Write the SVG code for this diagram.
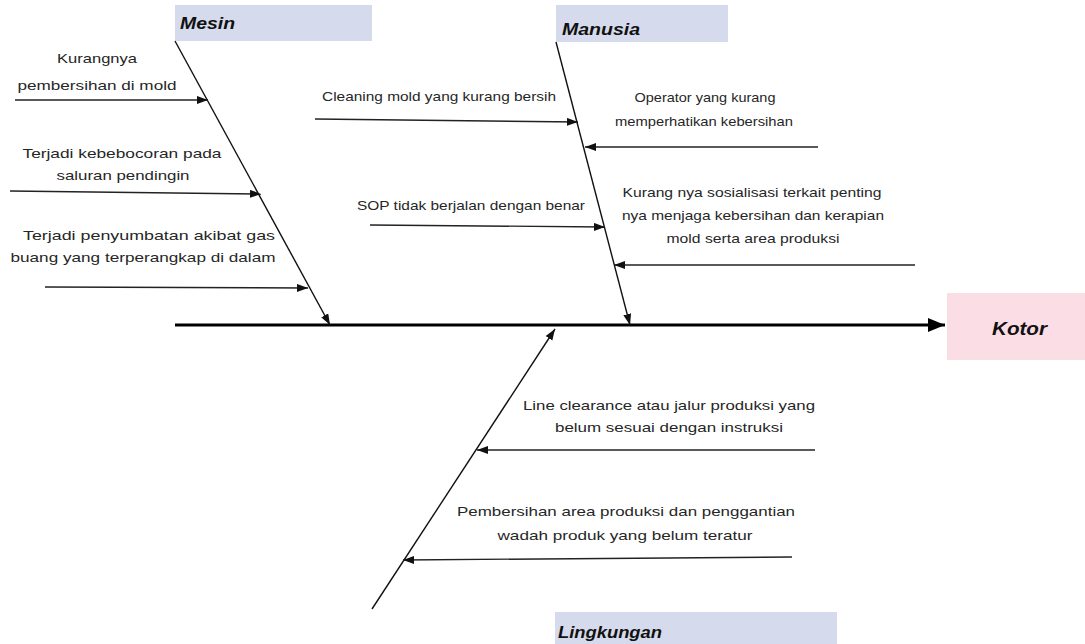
<svg xmlns="http://www.w3.org/2000/svg" width="1085" height="644" viewBox="0 0 1085 644">
<style>
.t{font-family:"Liberation Sans",Arial,sans-serif;font-size:13.5px;fill:#262626;text-anchor:middle}
.h{font-family:"Liberation Sans",Arial,sans-serif;font-weight:bold;font-style:italic;fill:#111}
.cat{fill:#d5dbec}
.eff{fill:#fbdde6}
.bone{stroke:#111;stroke-width:1.4;fill:none}
.sub{stroke:#222;stroke-width:1.4;fill:none;marker-end:url(#ah)}
</style>
<defs>
<marker id="ah" markerUnits="userSpaceOnUse" markerWidth="12" markerHeight="10" refX="11" refY="4" orient="auto">
<path d="M0,0 L11,4 L0,8 Z" fill="#111"/>
</marker>
<marker id="big" markerUnits="userSpaceOnUse" markerWidth="18" markerHeight="16" refX="17" refY="7" orient="auto">
<path d="M0,0 L17,7 L0,14 Z" fill="#000"/>
</marker>
</defs>
<rect width="1085" height="644" fill="#fff"/>

<g id="node-mesin">
<rect class="cat" x="175" y="5" width="197" height="36"/>
<text class="h" x="180" y="29" font-size="16" textLength="55" lengthAdjust="spacingAndGlyphs">Mesin</text>
</g>
<g id="node-manusia">
<rect class="cat" x="556" y="5" width="172" height="37"/>
<text class="h" x="562" y="35" font-size="16" textLength="78" lengthAdjust="spacingAndGlyphs">Manusia</text>
</g>
<g id="node-lingkungan">
<rect class="cat" x="555" y="612" width="282" height="32"/>
<text class="h" x="558" y="638" font-size="17" textLength="104" lengthAdjust="spacingAndGlyphs">Lingkungan</text>
</g>
<g id="node-kotor">
<rect class="eff" x="947" y="293" width="138" height="67"/>
<text class="h" x="992" y="335" font-size="18" textLength="55" lengthAdjust="spacingAndGlyphs">Kotor</text>
</g>

<g id="node-kurangnya">
<text class="t" x="97" y="63" textLength="80" lengthAdjust="spacingAndGlyphs">Kurangnya</text>
<text class="t" x="97" y="90" textLength="159" lengthAdjust="spacingAndGlyphs">pembersihan di mold</text>
</g>
<g id="node-kebocoran">
<text class="t" x="122" y="158" textLength="199" lengthAdjust="spacingAndGlyphs">Terjadi kebebocoran pada</text>
<text class="t" x="123" y="180" textLength="133" lengthAdjust="spacingAndGlyphs">saluran pendingin</text>
</g>
<g id="node-penyumbatan">
<text class="t" x="149" y="240" textLength="252" lengthAdjust="spacingAndGlyphs">Terjadi penyumbatan akibat gas</text>
<text class="t" x="143" y="262" textLength="265" lengthAdjust="spacingAndGlyphs">buang yang terperangkap di dalam</text>
</g>
<g id="node-cleaning">
<text class="t" x="439" y="101" textLength="234" lengthAdjust="spacingAndGlyphs">Cleaning mold yang kurang bersih</text>
</g>
<g id="node-operator">
<text class="t" x="705" y="102" textLength="141" lengthAdjust="spacingAndGlyphs">Operator yang kurang</text>
<text class="t" x="704" y="126" textLength="178" lengthAdjust="spacingAndGlyphs">memperhatikan  kebersihan</text>
</g>
<g id="node-sop">
<text class="t" x="471" y="210" textLength="228" lengthAdjust="spacingAndGlyphs">SOP tidak berjalan  dengan benar</text>
</g>
<g id="node-sosialisasi">
<text class="t" x="752" y="197" textLength="259" lengthAdjust="spacingAndGlyphs">Kurang nya sosialisasi terkait penting</text>
<text class="t" x="753" y="220" textLength="262" lengthAdjust="spacingAndGlyphs">nya menjaga kebersihan dan kerapian</text>
<text class="t" x="753" y="243" textLength="173" lengthAdjust="spacingAndGlyphs">mold serta area produksi</text>
</g>
<g id="node-lineclearance">
<text class="t" x="669" y="410" textLength="292" lengthAdjust="spacingAndGlyphs">Line clearance atau jalur produksi yang</text>
<text class="t" x="669" y="432" textLength="228" lengthAdjust="spacingAndGlyphs">belum sesuai dengan instruksi</text>
</g>
<g id="node-pembersihan">
<text class="t" x="626" y="516" textLength="338" lengthAdjust="spacingAndGlyphs">Pembersihan area produksi dan penggantian</text>
<text class="t" x="625" y="540" textLength="255" lengthAdjust="spacingAndGlyphs">wadah produk yang belum teratur</text>
</g>

<g id="connectors">
<line x1="175" y1="325" x2="945" y2="325" stroke="#000" stroke-width="3" marker-end="url(#big)"/>
<line class="bone" x1="175" y1="41" x2="330" y2="325" marker-end="url(#ah)"/>
<line class="bone" x1="556" y1="42" x2="630" y2="325" marker-end="url(#ah)"/>
<line class="bone" x1="372" y1="609" x2="555" y2="329" marker-end="url(#ah)"/>
<line class="sub" x1="15" y1="100" x2="208" y2="100"/>
<line class="sub" x1="10" y1="191" x2="261" y2="194"/>
<line class="sub" x1="45" y1="287" x2="308" y2="288"/>
<line class="sub" x1="315" y1="119" x2="578" y2="122"/>
<line class="sub" x1="818" y1="147" x2="585" y2="147"/>
<line class="sub" x1="370" y1="225" x2="605" y2="227"/>
<line class="sub" x1="915" y1="265" x2="614" y2="265"/>
<line class="sub" x1="815" y1="450" x2="477" y2="450"/>
<line class="sub" x1="792" y1="557" x2="403" y2="560"/>
</g>
</svg>
